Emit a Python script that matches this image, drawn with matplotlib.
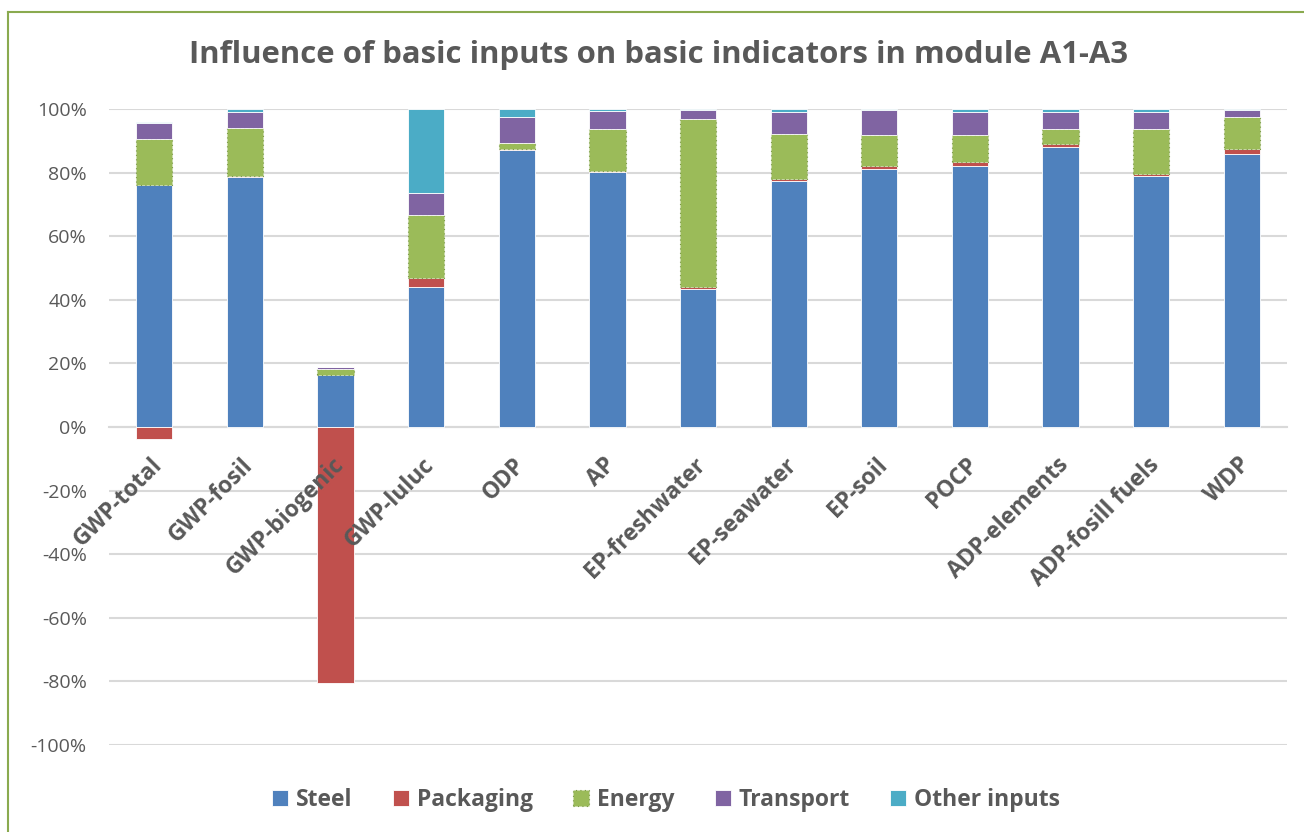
import matplotlib
matplotlib.use("Agg")
import matplotlib.pyplot as plt
from matplotlib.lines import Line2D
from matplotlib.transforms import offset_copy
import numpy as np

categories = ["GWP-total", "GWP-fosil", "GWP-biogenic", "GWP-luluc", "ODP", "AP",
              "EP-freshwater", "EP-seawater", "EP-soil", "POCP", "ADP-elements",
              "ADP-fosill fuels", "WDP"]

steel     = [76.0, 78.5, 16.4, 44.1, 87.0, 80.2, 43.5, 77.4, 81.2, 82.2, 88.2, 78.8, 85.7]
packaging = [-3.7, 0.5, -80.5, 2.8, 0.4, 0.4, 0.4, 0.7, 1.0, 1.2, 0.9, 0.6, 1.7]
energy    = [14.5, 15.0, 1.9, 19.7, 1.9, 13.1, 53.0, 14.1, 9.6, 8.4, 4.6, 14.3, 10.0]
transport = [5.0, 5.0, 0.5, 6.9, 8.2, 5.8, 2.7, 7.0, 7.8, 7.3, 5.5, 5.5, 2.2]
other     = [0.3, 1.0, 0.0, 26.5, 2.5, 0.5, 0.4, 0.8, 0.4, 0.9, 0.8, 0.8, 0.4]

series_names = ["Steel", "Packaging", "Energy", "Transport", "Other inputs"]
series_vals = [steel, packaging, energy, transport, other]
colors = ["#4F81BD", "#C0504D", "#9BBB59", "#8064A2", "#4BACC6"]

yticks = [-100, -80, -60, -40, -20, 0, 20, 40, 60, 80, 100]
ytick_labels = [f"{t}%" for t in yticks]

FONT = ["Open Sans", "DejaVu Sans"]
TXT = "#595959"
plt.rcParams["font.family"] = FONT

fig = plt.figure(figsize=(13.04, 8.32), dpi=100)
ax = fig.add_axes([0.0836, 0.1046, 0.9034, 0.7644])

x = np.arange(len(categories))
pos_base = np.zeros(len(categories))
neg_base = np.zeros(len(categories))
handles = []
for name, vals, col in zip(series_names, series_vals, colors):
    vals = np.array(vals, dtype=float)
    bottoms = np.where(vals >= 0, pos_base, neg_base)
    b = ax.bar(x, vals, width=0.4, bottom=bottoms, label=name, color=col,
               edgecolor="white", linewidth=0.6, zorder=3)
    if name == "Energy":
        for r in b:
            r.set_edgecolor("#7a9a45")
            r.set_linestyle((0, (1, 3)))
            r.set_linewidth(0.8)
    handles.append(b)
    pos_base = pos_base + np.where(vals >= 0, vals, 0)
    neg_base = neg_base + np.where(vals < 0, vals, 0)

ax.set_xlim(-0.5, len(categories) - 0.5)
ax.set_ylim(-100, 100)
ax.set_yticks(yticks)
ax.set_yticklabels(ytick_labels)
ax.yaxis.grid(True, color="#d9d9d9", linewidth=1.5, zorder=0)
ax.set_axisbelow(True)
for s in ["left", "right", "top"]:
    ax.spines[s].set_visible(False)
ax.spines["bottom"].set_position(("data", 0))
ax.spines["bottom"].set_color("#d9d9d9")
ax.spines["bottom"].set_linewidth(1.5)
ax.tick_params(axis="both", length=0)
ax.tick_params(axis="y", labelsize=14, labelcolor=TXT, pad=16)
ax.set_xticks(x)
ax.set_xticklabels([])

# category labels drawn above the bars
lab_tr = offset_copy(ax.transData, fig=fig, x=-4, y=-26, units="dots")
for xi, cat in zip(x, categories):
    ax.text(xi, 0, cat, transform=lab_tr, rotation=45, ha="right", va="top",
            rotation_mode="anchor", fontsize=16.5, fontweight="bold", color=TXT,
            zorder=10, clip_on=False)

fig.text(0.505, 0.934, "Influence of basic inputs on basic indicators in module A1-A3",
         ha="center", va="center", fontsize=22.4, fontweight="bold", color=TXT)

leg = fig.legend(handles=handles, labels=series_names, loc="center",
                 bbox_to_anchor=(0.511, 0.039), ncol=5, frameon=False,
                 fontsize=16.5, handlelength=0.7, handleheight=0.7,
                 handletextpad=0.35, columnspacing=1.75)
for t in leg.get_texts():
    t.set_color(TXT)
    t.set_fontweight("bold")

# chart frame (olive border visible at top and left)
fig.add_artist(Line2D([0.006, 0.006], [0.0, 0.986], transform=fig.transFigure,
                      color="#8aaa4f", linewidth=1.5))
fig.add_artist(Line2D([0.006, 1.0], [0.986, 0.986], transform=fig.transFigure,
                      color="#8aaa4f", linewidth=1.5))

fig.savefig("out.png", dpi=100)
